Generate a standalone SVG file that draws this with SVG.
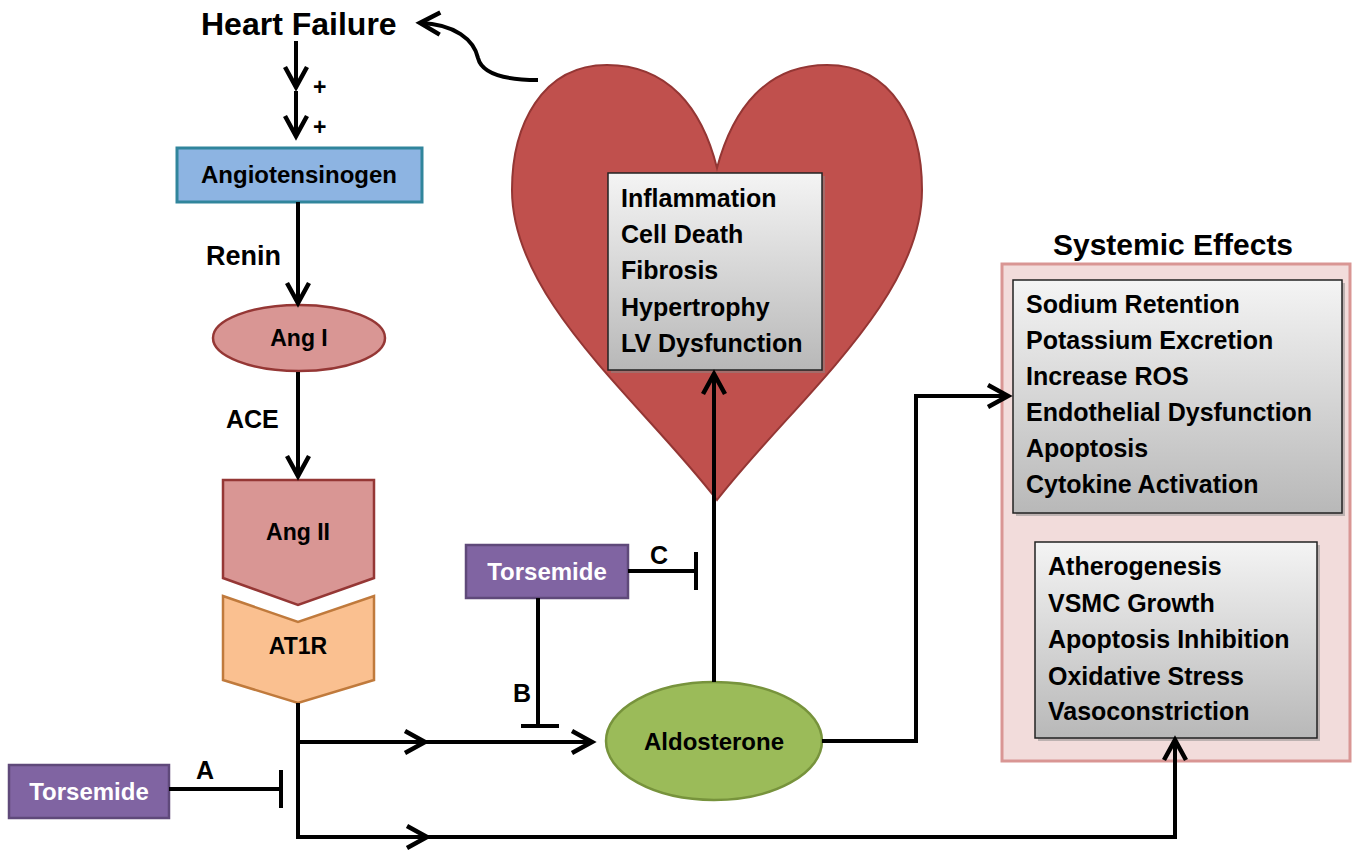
<svg xmlns="http://www.w3.org/2000/svg" width="1355" height="852" viewBox="0 0 1355 852">
<defs>
<style>
.t{font-family:"Liberation Sans",Arial,sans-serif;font-weight:bold;fill:#000}
.c{text-anchor:middle}
.w{fill:#fff}
.ln{fill:none;stroke:#000;stroke-width:4}
.lst{font-size:25px}
</style>
<marker id="ah" markerUnits="userSpaceOnUse" viewBox="-26 -16 32 32" markerWidth="32" markerHeight="32" refX="0" refY="0" orient="auto" overflow="visible">
<path d="M-20,-11 L0,0 L-20,11" fill="none" stroke="#000" stroke-width="4.5"/>
</marker>
<linearGradient id="gb" x1="0" y1="0" x2="0" y2="1">
<stop offset="0" stop-color="#f4f4f4"/>
<stop offset="1" stop-color="#b8b8b8"/>
</linearGradient>
</defs>
<rect width="1355" height="852" fill="#fff"/>

<g id="heart">
<path d="M717,168 C702,108 668,65 607,65 C542,65 512,125 512,190 C512,300 640,400 717,500 C795,400 922,300 922,190 C922,125 893,65 827,65 C767,65 733,108 717,168 Z" fill="#c0504d" stroke="#943634" stroke-width="2"/>
</g>

<g id="heart-effects">
<rect x="611" y="176" width="214" height="197" fill="#888" opacity="0.5"/>
<rect x="608" y="173" width="214" height="197" fill="url(#gb)" stroke="#222" stroke-width="1.5"/>
<text class="t lst" x="621" y="207">Inflammation</text>
<text class="t lst" x="621" y="243">Cell Death</text>
<text class="t lst" x="621" y="279">Fibrosis</text>
<text class="t lst" x="621" y="316">Hypertrophy</text>
<text class="t lst" x="621" y="352">LV Dysfunction</text>
</g>

<g id="heart-failure">
<text class="t" x="201" y="35" font-size="32">Heart Failure</text>
</g>

<g id="angiotensinogen">
<rect x="177" y="148" width="245" height="54" fill="#8db4e2" stroke="#31859c" stroke-width="3"/>
<text class="t c" x="299" y="183" font-size="24">Angiotensinogen</text>
</g>

<g id="ang1">
<ellipse cx="299" cy="338" rx="86" ry="33" fill="#d99694" stroke="#953735" stroke-width="2.5"/>
<text class="t c" x="299" y="346" font-size="23">Ang I</text>
</g>

<g id="ang2">
<path d="M223,480 L374,480 L374,578 L298,605 L223,578 Z" fill="#d99694" stroke="#953735" stroke-width="2.5"/>
<text class="t c" x="298" y="540" font-size="23">Ang II</text>
</g>

<g id="at1r">
<path d="M223,596 L298,622 L374,596 L374,680 L298,703 L223,680 Z" fill="#fac090" stroke="#c07a3c" stroke-width="2.5"/>
<text class="t c" x="298" y="654" font-size="23">AT1R</text>
</g>

<g id="torsemide-a">
<rect x="9" y="765" width="160" height="53" fill="#8064a2" stroke="#5f497a" stroke-width="2.5"/>
<text class="t c w" x="89" y="800" font-size="24">Torsemide</text>
</g>

<g id="torsemide-bc">
<rect x="466" y="545" width="162" height="53" fill="#8064a2" stroke="#5f497a" stroke-width="2.5"/>
<text class="t c w" x="547" y="580" font-size="24">Torsemide</text>
</g>

<g id="aldosterone">
<ellipse cx="714" cy="741" rx="108" ry="59" fill="#9bbb59" stroke="#77933c" stroke-width="2.5"/>
<text class="t c" x="714" y="750" font-size="24">Aldosterone</text>
</g>

<g id="systemic">
<rect x="1002" y="264" width="348" height="497" fill="#f2dcdb" stroke="#d99694" stroke-width="3"/>
<text class="t c" x="1173" y="255" font-size="30">Systemic Effects</text>
<rect x="1016" y="283" width="329" height="233" fill="#888" opacity="0.5"/>
<rect x="1013" y="280" width="329" height="233" fill="url(#gb)" stroke="#222" stroke-width="1.5"/>
<text class="t lst" x="1026" y="313">Sodium Retention</text>
<text class="t lst" x="1026" y="349">Potassium Excretion</text>
<text class="t lst" x="1026" y="385">Increase ROS</text>
<text class="t lst" x="1026" y="421">Endothelial Dysfunction</text>
<text class="t lst" x="1026" y="457">Apoptosis</text>
<text class="t lst" x="1026" y="493">Cytokine Activation</text>
<rect x="1038" y="545" width="282" height="196" fill="#888" opacity="0.5"/>
<rect x="1035" y="542" width="282" height="196" fill="url(#gb)" stroke="#222" stroke-width="1.5"/>
<text class="t lst" x="1048" y="575">Atherogenesis</text>
<text class="t lst" x="1048" y="612">VSMC Growth</text>
<text class="t lst" x="1048" y="648">Apoptosis Inhibition</text>
<text class="t lst" x="1048" y="685">Oxidative Stress</text>
<text class="t lst" x="1048" y="720">Vasoconstriction</text>
</g>

<g id="connectors">
<path class="ln" d="M296,41 L296,87" marker-end="url(#ah)"/>
<path class="ln" d="M296,91 L296,136" marker-end="url(#ah)"/>
<path class="ln" d="M298,202 L298,303" marker-end="url(#ah)"/>
<path class="ln" d="M298,372 L298,476" marker-end="url(#ah)"/>
<path class="ln" d="M298,703 L298,837 L427,837" marker-end="url(#ah)"/>
<path class="ln" d="M427,837 L1175,837 L1175,740" marker-end="url(#ah)"/>
<path class="ln" d="M298,742 L425,742" marker-end="url(#ah)"/>
<path class="ln" d="M425,742 L592,742" marker-end="url(#ah)"/>
<path class="ln" d="M714,682 L714,374" marker-end="url(#ah)"/>
<path class="ln" d="M822,741 L916,741 L916,396 L1008,396" marker-end="url(#ah)"/>
<path class="ln" d="M538,80 C505,80 482,74 478,58 C474,40 455,24 420,23" marker-end="url(#ah)"/>
<path class="ln" d="M169,789 L281,789 M281,770 L281,808"/>
<path class="ln" d="M628,571 L696,571 M696,552 L696,590"/>
<path class="ln" d="M538,598 L538,726 M521,726 L559,726"/>
<text class="t" x="313" y="95" font-size="23">+</text>
<text class="t" x="313" y="135" font-size="23">+</text>
<text class="t" x="206" y="265" font-size="27">Renin</text>
<text class="t" x="226" y="428" font-size="25">ACE</text>
<text class="t" x="196" y="779" font-size="25">A</text>
<text class="t" x="513" y="702" font-size="25">B</text>
<text class="t" x="650" y="564" font-size="25">C</text>
</g>
</svg>
